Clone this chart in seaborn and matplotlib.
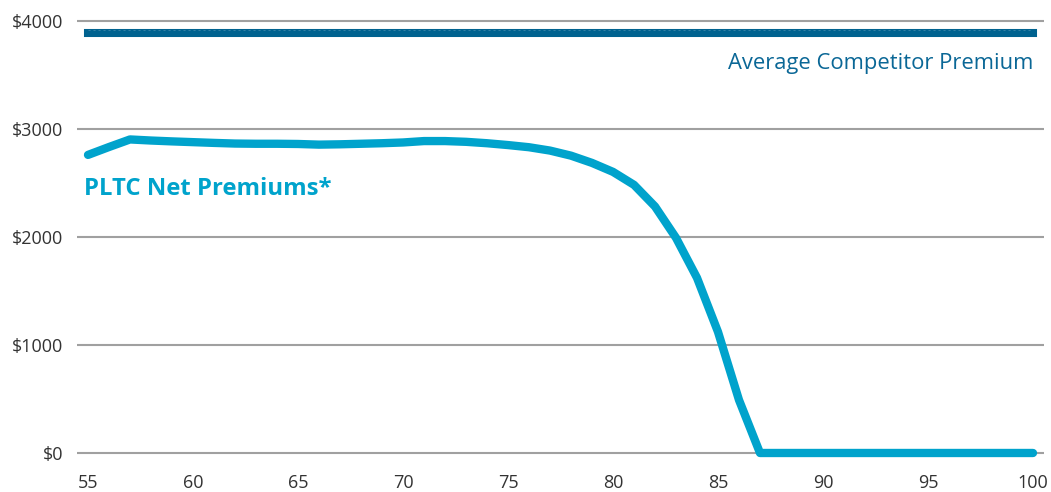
import matplotlib
matplotlib.use("Agg")
import matplotlib.pyplot as plt
import seaborn as sns
import pandas as pd

ages = list(range(55, 101))
pltc_premiums = [2757, 2830, 2900, 2890, 2882, 2875, 2868, 2862, 2860, 2860,
                 2858, 2852, 2855, 2860, 2865, 2872, 2885, 2885, 2878, 2865,
                 2848, 2828, 2797, 2750, 2683, 2600, 2480, 2280, 1990, 1620,
                 1120, 490, 0, 0, 0, 0, 0, 0, 0, 0, 0, 0, 0, 0, 0, 0]
competitor_premium = [3880] * len(ages)
y_ticks = [0, 1000, 2000, 3000, 4000]
y_tick_labels = ["$0", "$1000", "$2000", "$3000", "$4000"]
x_ticks = [55, 60, 65, 70, 75, 80, 85, 90, 95, 100]

df = pd.DataFrame({"age": ages, "pltc": pltc_premiums, "competitor": competitor_premium})

sns.set_style("white")
plt.rcParams["font.family"] = ["Open Sans", "DejaVu Sans"]

fig = plt.figure(figsize=(10.51, 4.92), dpi=100)
ax = fig.add_axes([77 / 1051, 1 - 463.8 / 492, (1044 - 77) / 1051, (463.8 - 9.7) / 492])

dark_blue = "#00628f"
light_blue = "#00a3cc"

# competitor average: thick bar with a fine dotted texture on top
sns.lineplot(data=df, x="age", y="competitor", ax=ax, color=dark_blue,
             linewidth=5.8, solid_capstyle="projecting", zorder=3)
sns.lineplot(data=df, x="age", y="competitor", ax=ax, color="#3f86a9",
             linewidth=0.6, linestyle=(0, (2.5, 3.5)), zorder=3.5)
ax.lines[-1].set_transform(ax.lines[-1].get_transform() +
                           matplotlib.transforms.ScaledTranslation(0, 2.6 / 72, fig.dpi_scale_trans))
sns.lineplot(data=df, x="age", y="pltc", ax=ax, color=light_blue,
             linewidth=6.0, zorder=4)

ax.set_xlim(55 - 11 / 21, 100 + 11 / 21)
ax.set_ylim(-100, 4100)
ax.set_yticks(y_ticks)
ax.set_yticklabels(y_tick_labels)
ax.set_xticks(x_ticks)
ax.set_xlabel("")
ax.set_ylabel("")

for y in y_ticks:
    ax.axhline(y, color="#a0a0a0", linewidth=1.5, zorder=1)

for s in ax.spines.values():
    s.set_visible(False)
ax.tick_params(axis="both", length=0, labelsize=13, labelcolor="#333333")
ax.tick_params(axis="y", pad=10)
ax.tick_params(axis="x", pad=7)

ax.text(100.0, 3600, "Average Competitor Premium", color="#0a6796", fontsize=15.8,
        ha="right", va="center")
ax.text(54.8, 2440, "PLTC Net Premiums*", color=light_blue, fontsize=17.2,
        fontweight="bold", ha="left", va="center")

fig.savefig("out.png", dpi=100)
